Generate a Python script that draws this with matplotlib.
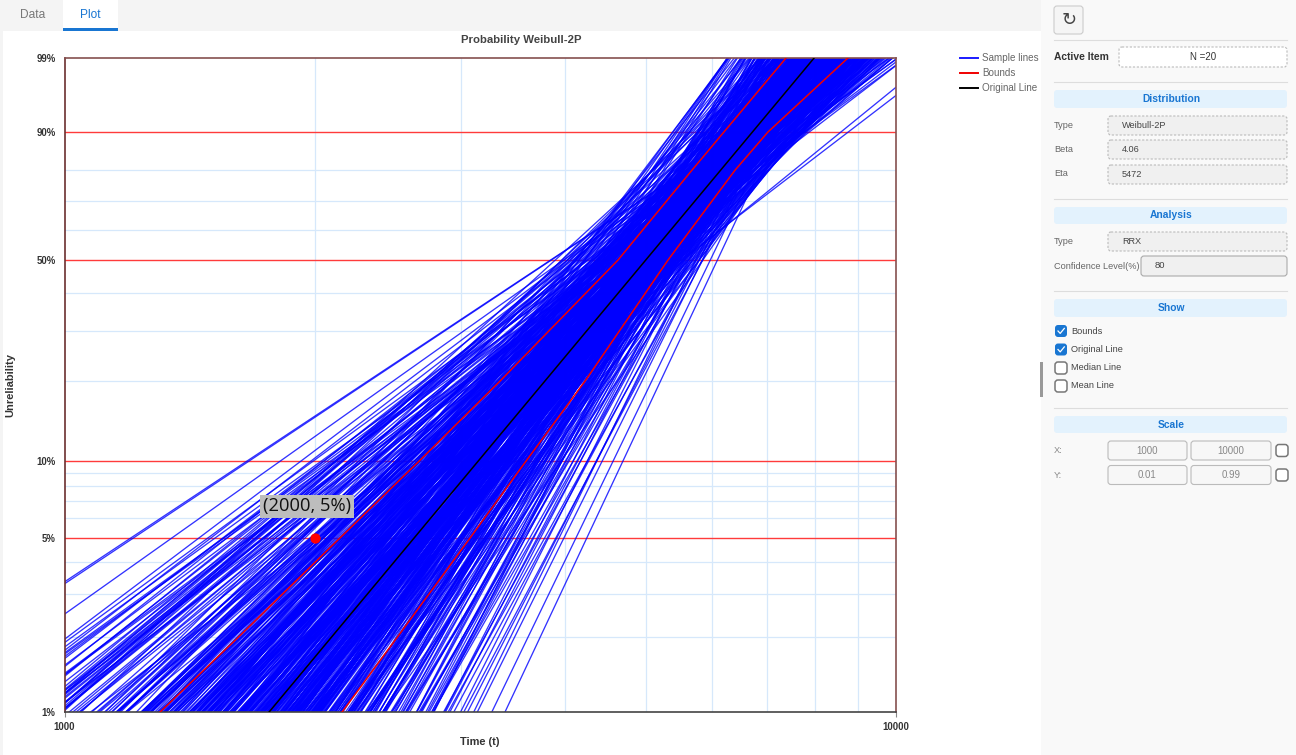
import numpy as np
import matplotlib
matplotlib.use('Agg')
import matplotlib.pyplot as plt
from matplotlib.lines import Line2D
from matplotlib.patches import FancyBboxPatch, Rectangle
from matplotlib.ticker import NullFormatter

plt.rcParams['font.family'] = ['Liberation Sans', 'DejaVu Sans']

# Weibull parameters of the sample lines, estimated from where they cross the plot
sample_beta = [
    2.24, 2.25, 2.40, 2.59, 2.75,
    2.55, 2.58, 2.45, 2.42, 2.60, 2.62, 2.50, 2.47, 2.65, 2.52,
    2.68, 2.64, 2.57, 2.70, 2.44, 2.72, 2.74, 2.54, 2.66, 2.76,
    2.48, 2.78, 2.61, 2.82, 2.69, 2.80, 2.59, 2.84, 2.73, 2.86,
    2.77, 2.90, 2.88, 2.94, 2.98,
    2.72, 2.75, 2.78, 2.80, 2.83, 2.85, 2.88, 2.90, 2.92, 2.94,
    2.96, 2.98, 3.00, 3.02, 3.03, 3.05, 3.07, 3.08, 3.10, 3.11,
    3.13, 3.14, 3.16, 3.17, 3.18, 3.19, 3.20, 3.22, 3.24, 3.27,
    3.29, 3.32,
    3.21, 3.25, 3.28, 3.31, 3.34, 3.37, 3.39, 3.41, 3.44, 3.46,
    3.48, 3.50, 3.52, 3.53, 3.55, 3.57, 3.58, 3.60, 3.61, 3.63,
    3.64, 3.66, 3.67, 3.69, 3.70, 3.71, 3.73, 3.74, 3.76, 3.77,
    3.78, 3.80, 3.81, 3.82, 3.84, 3.85, 3.86, 3.88, 3.89, 3.90,
    3.91, 3.93, 3.94, 3.95, 3.96, 3.98, 3.99, 4.00, 4.02, 4.03,
    4.04, 4.05, 4.07, 4.08, 4.09, 4.10, 4.12, 4.13, 4.14, 4.15,
    4.17, 4.18, 4.19, 4.20, 4.22, 4.23, 4.24, 4.26, 4.27, 4.28,
    4.29, 4.31, 4.32, 4.33, 4.35, 4.36, 4.38, 4.39, 4.40, 4.42,
    4.43, 4.45, 4.46, 4.48, 4.49, 4.51, 4.52, 4.54, 4.56, 4.57,
    4.59, 4.61, 4.63, 4.65, 4.67, 4.69, 4.71, 4.73, 4.75, 4.78,
    4.80, 4.82, 4.85, 4.88, 4.90, 4.93, 4.96, 4.99, 5.02, 5.05,
    3.30, 3.36, 3.43, 3.49, 3.54, 3.59, 3.62, 3.65, 3.68, 3.72,
    3.75, 3.79, 3.83, 3.87, 3.92, 3.97, 4.01, 4.06, 4.11, 4.16,
    4.21, 4.25, 4.30, 4.34, 4.37, 4.41, 4.44, 4.47, 4.50, 4.53,
    3.33, 3.40, 3.47, 3.56, 3.63, 3.70, 3.77, 3.85, 3.94, 4.03,
    4.12, 4.23, 4.33, 4.43, 4.55, 4.62, 4.68, 4.74, 4.81, 4.87,
    3.26, 3.35, 3.42, 3.51, 3.60, 3.69, 3.78, 3.88, 3.98, 4.09,
    4.19, 4.28, 4.39, 4.49, 4.58, 4.66, 4.77, 4.84, 4.92, 5.00,
    3.40, 3.60, 3.20, 3.80, 3.05, 4.00, 3.50, 4.20, 3.30, 3.70,
    3.90, 4.40, 3.15, 3.45, 3.65, 3.85, 4.10, 4.30, 4.60, 4.80,
    3.35, 3.55, 3.75, 3.95, 4.15, 4.50,
    7.20, 7.00, 6.80, 6.60, 6.90, 6.40, 6.70, 6.30, 6.50, 6.20,
    6.10, 6.60, 6.00, 6.40, 5.90, 6.20, 5.80, 6.00, 5.70, 6.30,
    5.60, 5.90, 5.50, 5.80, 5.40, 5.70, 5.30, 5.60, 5.20, 5.50,
    5.15, 5.45, 5.10, 5.35, 5.05, 5.25, 5.00, 5.30, 5.10, 4.95,
    5.55, 5.75, 6.05, 6.25, 5.85, 5.65, 6.15, 6.45, 6.55, 6.75,
    4.47, 4.60, 4.30, 4.80, 5.00, 4.20, 4.50, 5.20, 3.90, 4.10,
    4.70, 5.40, 3.70, 3.40, 3.60, 3.85, 4.25, 4.55, 4.85, 5.10,
    5.50, 5.80, 3.30, 3.50, 3.75, 4.00, 4.35, 4.65, 4.95, 3.45,
    3.65, 3.95, 6.00, 5.25, 5.60, 3.18, 3.10, 3.05, 3.35, 3.55,
    3.38, 4.21, 3.72, 4.55, 3.95, 4.10, 3.60, 4.37, 4.82, 3.83,
    4.02, 3.48, 4.44, 3.90, 4.66, 3.31, 4.15, 3.78, 4.29, 3.56,
    4.60, 3.98, 4.18, 3.67, 4.33, 4.74, 3.86, 4.08, 3.52, 4.48,
    3.74, 4.25, 4.40, 3.62, 4.94, 3.44, 4.12, 3.92, 4.58, 3.80,
    4.05, 4.70, 3.35, 4.30, 3.88, 4.52, 3.70, 4.16, 3.97, 4.36,
    3.58, 4.23, 4.86, 3.76, 4.43, 3.50, 4.06, 4.62, 3.84, 4.27,
    3.66, 4.49, 3.94, 4.11, 4.78, 3.42, 4.34, 3.82, 4.00, 4.56,
    3.54, 4.20, 4.68, 3.73, 4.38, 3.89, 4.03, 4.90, 3.64, 4.46,
    3.46, 3.81, 4.13, 4.64, 3.91, 4.28, 3.69, 4.52, 3.99, 4.19,
    3.40, 4.76, 3.79, 4.09, 4.42, 3.57, 4.31, 3.87, 4.98, 4.14,
    5.08, 5.22, 5.33, 5.42, 5.52, 5.62, 5.72, 5.82, 5.92, 6.02,
    6.12, 6.22, 6.32, 6.42, 6.52, 5.18, 5.38, 5.48, 5.58, 5.68,
    4.92, 5.04, 5.12, 5.28, 5.44, 5.64, 5.78, 5.94, 6.08, 6.18,
    3.06, 3.12, 3.15, 3.21, 3.26, 3.30, 3.35, 3.39, 3.44, 3.48,
    3.02, 3.09, 3.18, 3.24, 3.32, 3.37, 3.43, 3.47, 3.52, 3.58,
    2.95, 3.00, 3.04, 3.11, 3.16, 3.23, 3.28, 3.36, 3.41, 3.50,
]
sample_eta = [
    4524, 4530, 4640, 6350, 6340,
    4650, 4900, 5100, 5350, 4700, 5200, 5450, 4950, 5500, 5050,
    4750, 5350, 5600, 5100, 5250, 4800, 5300, 5150, 4950, 5000,
    5550, 4850, 5400, 4700, 5250, 5100, 5700, 4750, 5150, 4900,
    5200, 4600, 4800, 4650, 4550,
    5650, 5500, 5300, 5700, 5200, 5800, 5400, 5100, 5600, 5250,
    5900, 5050, 5500, 5750, 5150, 5350, 5000, 5650, 5450, 5200,
    4950, 5500, 5100, 5350, 4900, 5250, 5000, 4850, 5200, 5050,
    4800, 4950,
    5310, 5620, 5180, 5450, 5730, 5260, 5540, 5390, 5810, 5120,
    5480, 5670, 5230, 5580, 5350, 5760, 5140, 5430, 5600, 5290,
    5520, 5840, 5200, 5390, 5650, 5470, 5110, 5700, 5330, 5560,
    5250, 5610, 5440, 5790, 5160, 5500, 5370, 5680, 5220, 5590,
    5420, 5750, 5280, 5530, 5090, 5640, 5460, 5340, 5860, 5190,
    5570, 5300, 5690, 5410, 5770, 5150, 5510, 5240, 5630, 5380,
    5720, 5270, 5490, 5830, 5130, 5550, 5360, 5660, 5210, 5440,
    5600, 5320, 5780, 5170, 5520, 5400, 5710, 5260, 5580, 5470,
    5340, 5650, 5100, 5500, 5800, 5230, 5560, 5380, 5740, 5290,
    5610, 5170, 5450, 5690, 5310, 5540, 5850, 5200, 5420, 5630,
    5360, 5720, 5250, 5590, 5480, 5120, 5670, 5400, 5780, 5300,
    5550, 5210, 5700, 5380, 5620, 5280, 5800, 5460, 5150, 5660,
    5340, 5510, 5750, 5190, 5420, 5600, 5310, 5830, 5240, 5490,
    5680, 5130, 5570, 5360, 5740, 5270, 5530, 5410, 5650, 5180,
    5400, 5640, 5220, 5520, 5770, 5300, 5590, 5140, 5470, 5710,
    5350, 5820, 5260, 5610, 5430, 5170, 5690, 5500, 5320, 5780,
    5480, 5200, 5630, 5370, 5560, 5110, 5720, 5290, 5410, 5650,
    5510, 5160, 5790, 5330, 5600, 5440, 5250, 5680, 5380, 5540,
    6100, 6150, 5950, 6200, 5850, 6250, 6050, 6280, 5980, 6120,
    6180, 6300, 5880, 6020, 6090, 6130, 6200, 6240, 6280, 6320,
    5920, 5990, 6040, 6080, 6120, 6180,
    6416, 6300, 6170, 6130, 6050, 6200, 5950, 6100, 5900, 6000,
    6150, 5750, 5950, 5700, 6050, 5650, 5900, 5600, 6000, 5500,
    5850, 5500, 5950, 5350, 5800, 5600, 5900, 5300, 5850, 5450,
    5700, 5200, 5600, 5500, 5800, 5350, 5650, 5150, 5400, 5900,
    5100, 5050, 5200, 5300, 5250, 5450, 5400, 5550, 5350, 5500,
    4470, 4500, 4480, 4560, 4620, 4540, 4580, 4680, 4500, 4600,
    4700, 4750, 4550, 4520, 4680, 4760, 4800, 4850, 4880, 4900,
    4950, 5000, 4600, 4780, 4850, 4900, 4950, 5000, 5020, 4900,
    4950, 5000, 5100, 4820, 4820, 4450, 4380, 4500, 4420, 4460,
    4860, 5920, 5040, 4900, 5980, 4780, 5860, 5070, 5030, 4820,
    5950, 4940, 5880, 4830, 5940, 5010, 5000, 5960, 4880, 5900,
    4960, 4790, 5890, 4870, 5810, 5060, 4920, 6010, 4990, 5850,
    5930, 4910, 4840, 5840, 5870, 5020, 5790, 4850, 5990, 5080,
    5100, 5150, 5770, 5220, 5690, 5260, 5180, 5600, 5730, 5330,
    5360, 5650, 5240, 5540, 5430, 5680, 5400, 5480, 5620, 5280,
    5310, 5580, 5120, 5760, 5370, 5530, 5190, 5470, 5510, 5240,
    5640, 5340, 5450, 5130, 5700, 5290, 5560, 5600, 5210, 5410,
    5520, 5350, 5670, 5170, 5440, 5710, 5270, 5380, 5590, 5490,
    5460, 5300, 5750, 5160, 5630, 5220, 5500, 5340, 5660, 5390,
    5740, 5480, 5720, 5580, 5680, 5520, 5780, 5620, 5440, 5760,
    5820, 5560, 5660, 5880, 5600, 5120, 5240, 5320, 5380, 5180,
    5640, 5280, 5760, 5060, 5620, 5000, 5300, 5100, 5480, 5240,
    5840, 5420, 5700, 5560, 5860, 5390, 5720, 5250, 5900, 5620,
    5300, 5620, 5760, 5460, 5080, 5540, 5780, 4920, 5350, 5830,
    5500, 5840, 5280, 5780, 5440, 5680, 5150, 5000, 5500, 4850,
]

original_beta = 4.06
original_eta = 5472

bound_prob = [0.01, 0.02, 0.05, 0.10, 0.20, 0.50, 0.80, 0.90, 0.99]
lower_bound_t = [1303, 1617, 2144, 2669, 3340, 4630, 5683, 6210, 7375]
upper_bound_t = [2157, 2512, 3074, 3589, 4227, 5318, 6403, 7015, 8753]

red_levels = [0.05, 0.10, 0.50, 0.90]
y_ticks = [0.01, 0.05, 0.10, 0.50, 0.90, 0.99]
y_tick_labels = ['1%', '5%', '10%', '50%', '90%', '99%']
y_minor = [0.02, 0.03, 0.04, 0.06, 0.07, 0.08, 0.09, 0.20, 0.30, 0.40, 0.60, 0.70, 0.80]
x_ticks = [1000, 10000]
x_minor = [2000, 3000, 4000, 5000, 6000, 7000, 8000, 9000]

marked_t = 2000
marked_prob = 0.05

BLUE_UI = '#1976d2'
W, H = 1296, 755


def weibull_y(p):
    p = np.clip(p, 1e-6, 1 - 1e-9)
    return np.log(-np.log(1 - p))


def weibull_y_inv(q):
    return 1 - np.exp(-np.exp(q))


def quantile(p, beta, eta):
    return eta * (-np.log(1 - p)) ** (1 / beta)


fig = plt.figure(figsize=(W / 100, H / 100), dpi=100, facecolor='white')

# app chrome around the chart, in pixel coordinates
ui = fig.add_axes([0, 0, 1, 1], zorder=0)
ui.set_xlim(0, W)
ui.set_ylim(H, 0)
ui.axis('off')


def rect(x0, y0, x1, y1, fc, ec='none', ls='-', lw=0.8, rounded=False):
    if rounded:
        patch = FancyBboxPatch((x0 + 2, y0 + 2), x1 - x0 - 4, y1 - y0 - 4, boxstyle='round,pad=2,rounding_size=3',
                               fc=fc, ec=ec, ls=ls, lw=lw)
    else:
        patch = Rectangle((x0, y0), x1 - x0, y1 - y0, fc=fc, ec=ec, ls=ls, lw=lw)
    ui.add_patch(patch)


def label(x, y, s, color='#666666', size=6.6, weight='normal', ha='left'):
    ui.text(x, y, s, color=color, fontsize=size, fontweight=weight, ha=ha, va='center')


def separator(y):
    ui.plot([1054, 1287], [y, y], color='#dddddd', lw=0.8)


def header(y0, y1, s):
    rect(1054, y0, 1287, y1, '#e3f2fd', rounded=True)
    label(1171, (y0 + y1) / 2, s, color=BLUE_UI, size=7.4, weight='bold', ha='center')


def readonly_box(y0, y1, s):
    rect(1108, y0, 1287, y1, '#f0f0f0', ec='#bbbbbb', ls=(0, (2, 1.5)), rounded=True)
    label(1122, (y0 + y1) / 2, s, color='#444444', size=6.6)


def checkbox(x, y, checked, ec='#777777'):
    if checked:
        rect(x, y - 6, x + 12, y + 6, BLUE_UI, rounded=True)
        ui.plot([x + 3, x + 5.2, x + 9.3], [y, y + 2.4, y - 2.6], color='white', lw=0.9)
    else:
        rect(x, y - 6, x + 12, y + 6, 'white', ec=ec, lw=1.1, rounded=True)


rect(0, 0, W, 31, '#f4f4f4')
rect(0, 0, 3, H, '#f4f4f4')
rect(63, 0, 118, 28, 'white')
rect(63, 28, 118, 30.5, BLUE_UI)
label(20, 15, 'Data', color='#777777', size=8.6)
label(90.5, 15, 'Plot', color=BLUE_UI, size=8.6, ha='center')

rect(1041, 0, W, H, '#f9f9f9')
rect(1040, 362, 1043, 397, '#999999')

rect(1054, 6, 1083, 34, '#f5f5f5', ec='#cccccc', rounded=True)
ui.text(1069, 20, '\u21bb', color='#444444', fontsize=13, ha='center', va='center', family='DejaVu Sans')
separator(39.5)
label(1054, 57.5, 'Active Item', color='#333333', size=7.4, weight='bold')
rect(1119, 47, 1287, 67, 'white', ec='#bbbbbb', ls=(0, (2, 1.5)), rounded=True)
label(1203, 57.5, 'N =20', color='#333333', size=7, ha='center')
separator(82)

header(90, 108, 'Distribution')
label(1054, 125, 'Type')
readonly_box(116, 135, 'Weibull-2P')
label(1054, 149, 'Beta')
readonly_box(140, 159, '4.06')
label(1054, 174, 'Eta')
readonly_box(165, 184, '5472')
separator(199)

header(207, 224, 'Analysis')
label(1054, 242, 'Type')
readonly_box(232, 251, 'RRX')
label(1054, 266.5, 'Confidence Level(%)')
rect(1141, 256, 1287, 276, '#f0f0f0', ec='#aaaaaa', rounded=True)
label(1155, 266, '80', color='#444444', size=6.8)
separator(291)

header(299, 317, 'Show')
for y, s, on in [(331, 'Bounds', True), (349.5, 'Original Line', True),
                 (368, 'Median Line', False), (386, 'Mean Line', False)]:
    checkbox(1055, y, on)
    label(1071, y, s, color='#444444', size=6.6)
separator(408)

header(416, 433, 'Scale')
for y, s, lo, hi in [(450.5, 'X:', '1000', '10000'), (475, 'Y:', '0.01', '0.99')]:
    label(1054, y, s, color='#888888')
    rect(1108, y - 9.5, 1187, y + 9.5, '#f7f7f7', ec='#bbbbbb', rounded=True)
    rect(1191, y - 9.5, 1271, y + 9.5, '#f7f7f7', ec='#bbbbbb', rounded=True)
    label(1147.5, y, lo, color='#888888', size=7, ha='center')
    label(1231, y, hi, color='#888888', size=7, ha='center')
    checkbox(1276, y, False)

# the probability plot itself
ax = fig.add_axes([64.5 / W, 1 - 712 / H, 831.5 / W, 654 / H], zorder=1)
ax.set_xscale('log')
ax.set_yscale('function', functions=(weibull_y, weibull_y_inv))
ax.set_xlim(1000, 10000)
ax.set_ylim(0.01, 0.99)

ax.set_xticks(x_ticks, [str(t) for t in x_ticks])
ax.set_xticks(x_minor, minor=True)
ax.xaxis.set_minor_formatter(NullFormatter())
ax.set_yticks(y_ticks, y_tick_labels)
ax.set_yticks(y_minor, minor=True)
ax.yaxis.set_minor_formatter(NullFormatter())
ax.tick_params(axis='x', which='major', length=3.5, width=0.8, color='#888888', labelsize=6.9,
               labelcolor='#333333', pad=4)
ax.tick_params(axis='y', which='major', length=0, labelsize=6.9, labelcolor='#333333', pad=6.5)
ax.tick_params(which='minor', length=0)
for t in ax.get_xticklabels() + ax.get_yticklabels():
    t.set_fontweight('bold')
ax.grid(which='minor', color='#d6e8fb', lw=0.9)
ax.set_axisbelow(True)

for level in red_levels:
    ax.axhline(level, color='#ff3b3b', lw=1.0, zorder=1)

for beta, eta in zip(sample_beta, sample_eta):
    ax.plot([quantile(0.01, beta, eta), quantile(0.99, beta, eta)], [0.01, 0.99],
            color='#0000ff', lw=0.95, alpha=0.8, zorder=2)

ax.plot(lower_bound_t, bound_prob, color='#f00000', lw=1.1, zorder=3)
ax.plot(upper_bound_t, bound_prob, color='#f00000', lw=1.1, zorder=3)
ax.plot([quantile(0.01, original_beta, original_eta), quantile(0.99, original_beta, original_eta)], [0.01, 0.99],
        color='black', lw=1.1, zorder=4)

ax.plot([marked_t], [marked_prob], 'o', color='red', ms=7.4, mew=0, zorder=5)
ax.annotate(f'({marked_t}, {marked_prob:.0%})', xy=(marked_t, marked_prob), xytext=(-5.8, 22.7),
            textcoords='offset points', ha='center', va='center', fontsize=13.2, family='Open Sans',
            color='#111111', bbox=dict(boxstyle='square,pad=0.15', fc='#bdbdbd', ec='none'), zorder=6)

ax.set_title('Probability Weibull-2P', fontsize=8.2, fontweight='bold', color='#444444', pad=10.5,
             x=(521 - 64.5) / 831.5)
ax.set_xlabel('Time (t)', fontsize=7.9, fontweight='bold', color='#333333', labelpad=3.5)
ax.set_ylabel('Unreliability', fontsize=8.0, fontweight='bold', color='#333333', labelpad=15)

for side in ['top', 'right']:
    ax.spines[side].set_color('#85504f')
    ax.spines[side].set_linewidth(1.2)
ax.spines['left'].set_color('#6b2f2f')
ax.spines['left'].set_linewidth(1.2)
ax.spines['bottom'].set_color('#444444')
ax.spines['bottom'].set_linewidth(1.2)

handles = [Line2D([], [], color='#1a1aff', lw=1.4), Line2D([], [], color='#f00000', lw=1.4),
           Line2D([], [], color='black', lw=1.4)]
ax.legend(handles, ['Sample lines', 'Bounds', 'Original Line'], loc='upper left',
          bbox_to_anchor=(960 / W, 1 - 53 / H), bbox_transform=fig.transFigure, frameon=False,
          fontsize=7.1, labelcolor='#666666', handlelength=1.83, handletextpad=0.4, labelspacing=0.52,
          borderpad=0, borderaxespad=0)

fig.savefig('out.png', dpi=100)
